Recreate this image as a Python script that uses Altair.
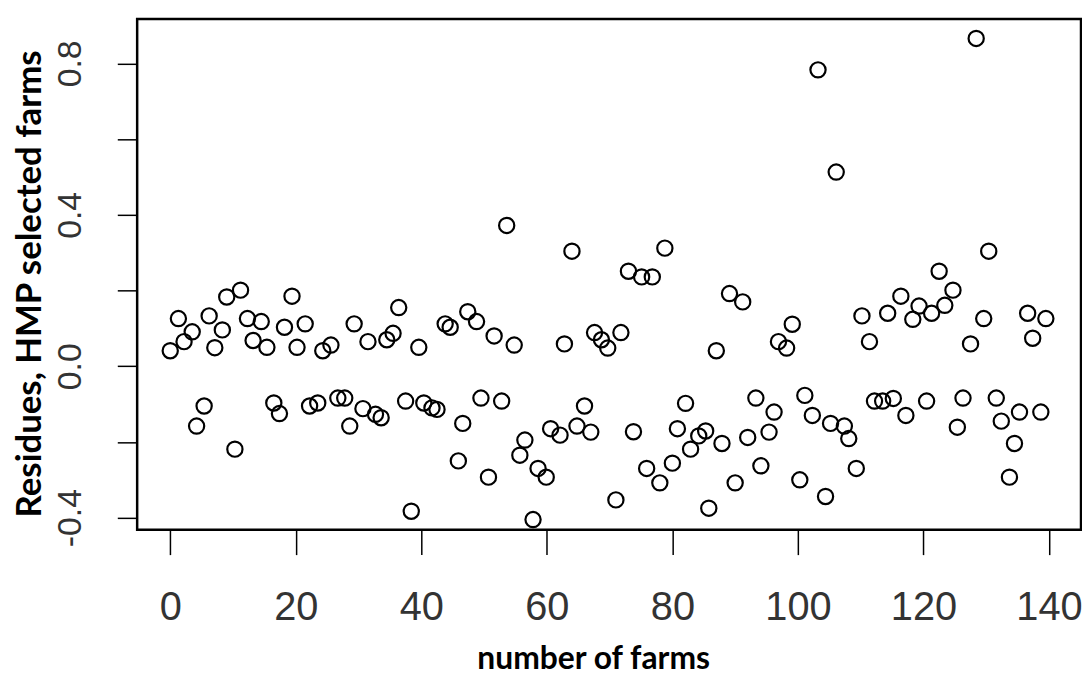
import altair as alt
import pandas as pd

# x position (farm number) and residue value
farm_x = [0.0, 1.3, 2.2, 3.5, 4.2, 5.4, 6.2, 7.1, 8.3, 9.0,
          10.3, 11.2, 12.3, 13.2, 14.5, 15.4, 16.5, 17.4, 18.2, 19.4,
          20.2, 21.5, 22.2, 23.5, 24.3, 25.6, 26.7, 27.8, 28.6, 29.3,
          30.7, 31.5, 32.7, 33.6, 34.5, 35.5, 36.4, 37.5, 38.4, 39.6,
          40.4, 41.7, 42.5, 43.8, 44.6, 45.9, 46.6, 47.4, 48.8, 49.5,
          50.7, 51.6, 52.8, 53.6, 54.8, 55.7, 56.5, 57.8, 58.6, 59.9,
          60.6, 62.1, 62.8, 64.0, 64.8, 66.0, 67.0, 67.6, 68.7, 69.7,
          71.0, 71.8, 73.0, 73.8, 75.1, 75.9, 76.8, 78.0, 78.8, 80.0, 80.8,
          82.1, 82.9, 84.2, 85.3, 85.8, 87.0, 87.9, 89.1, 90.0, 91.2,
          92.0, 93.3, 94.1, 95.4, 96.2, 96.9, 98.2, 99.1, 100.3, 101.1,
          102.3, 103.2, 104.4, 105.2, 106.1, 107.4, 108.1, 109.3, 110.2, 111.4,
          112.2, 113.5, 114.3, 115.2, 116.4, 117.2, 118.3, 119.3, 120.5, 121.3,
          122.5, 123.4, 124.7, 125.4, 126.3, 127.5, 128.4, 129.6, 130.4, 131.6,
          132.4, 133.7, 134.5, 135.3, 136.6, 137.4, 138.7, 139.5]

residues = [0.041, 0.126, 0.065, 0.091, -0.158, -0.105, 0.133, 0.049, 0.096, 0.183,
            -0.219, 0.201, 0.126, 0.068, 0.118, 0.050, -0.097, -0.125, 0.103, 0.185,
            0.050, 0.112, -0.105, -0.097, 0.041, 0.056, -0.084, -0.084, -0.158, 0.112,
            -0.112, 0.065, -0.127, -0.136, 0.070, 0.087, 0.155, -0.092, -0.383, 0.050,
            -0.097, -0.110, -0.114, 0.112, 0.103, -0.250, -0.151, 0.144, 0.118, -0.084,
            -0.293, 0.080, -0.092, 0.372, 0.056, -0.235, -0.195, -0.405, -0.270, -0.293,
            -0.165, -0.182, 0.059, 0.304, -0.158, -0.105, -0.174, 0.089, 0.070, 0.048,
            -0.353, 0.089, 0.251, -0.173, 0.236, -0.270, 0.236, -0.308, 0.312, -0.256, -0.165,
            -0.098, -0.219, -0.184, -0.171, -0.375, 0.041, -0.204, 0.192, -0.308, 0.170,
            -0.188, -0.084, -0.263, -0.174, -0.121, 0.065, 0.048, 0.111, -0.300, -0.077,
            -0.130, 0.783, -0.344, -0.151, 0.513, -0.158, -0.191, -0.270, 0.133, 0.065,
            -0.092, -0.092, 0.140, -0.085, 0.185, -0.130, 0.124, 0.159, -0.092, 0.140,
            0.251, 0.161, 0.201, -0.161, -0.084, 0.059, 0.866, 0.126, 0.304, -0.084,
            -0.145, -0.293, -0.204, -0.121, 0.140, 0.074, -0.121, 0.126]

x_ticks = [0, 20, 40, 60, 80, 100, 120, 140]
y_ticks = [-0.4, -0.2, 0.0, 0.2, 0.4, 0.6, 0.8]

assert len(farm_x) == len(residues), (len(farm_x), len(residues))

df = pd.DataFrame({"farm": farm_x, "residue": residues})

chart = alt.Chart(df).mark_point(
    shape="circle", filled=False, color="black", size=235, strokeWidth=2.2, opacity=1
).encode(
    x=alt.X("farm:Q",
            scale=alt.Scale(domain=[-5.27, 145.1], nice=False, zero=False),
            axis=alt.Axis(values=x_ticks, title="number of farms", grid=False, domain=False,
                          tickSize=25, tickWidth=1.5, tickColor="black",
                          labelFont="Liberation Sans",
                          labelFontSize=40, labelColor="#333333", labelPadding=65,
                          labelBaseline="alphabetic", labelFlush=False, labelOverlap=False,
                          titleFont="Lato", titleFontSize=32, titleFontWeight="bold", titleColor="black",
                          titleX=459, titleY=140, titleAlign="center", titleBaseline="alphabetic")),
    y=alt.Y("residue:Q",
            scale=alt.Scale(domain=[-0.432, 0.917], nice=False, zero=False),
            axis=alt.Axis(values=y_ticks, title="Residues, HMP selected farms", grid=False, domain=False,
                          tickSize=20, tickWidth=1.5, tickColor="black",
                          labelExpr="(round(datum.value*10) % 4 == 0) ? ((datum.value < 0 ? '-' : '') + format(abs(datum.value), '.1f')) : ''",
                          labelFont="Liberation Sans", labelFontSize=34, labelColor="#333333",
                          labelAngle=270, labelAlign="center", labelBaseline="alphabetic",
                          labelPadding=37, labelFlush=False, labelOverlap=False,
                          titleFont="Lato", titleFontSize=35, titleFontWeight="bold", titleColor="black",
                          titleAngle=270, titleX=-97, titleY=266, titleAlign="center",
                          titleBaseline="alphabetic")),
).properties(
    width=950, height=514,
    autosize=alt.AutoSizeParams(type="none"),
    padding={"left": 130, "top": 9, "right": 1, "bottom": 147},
).configure_view(stroke="black", strokeWidth=2.5)

chart.save("out.html", embed_options={"renderer": "svg", "actions": False})
